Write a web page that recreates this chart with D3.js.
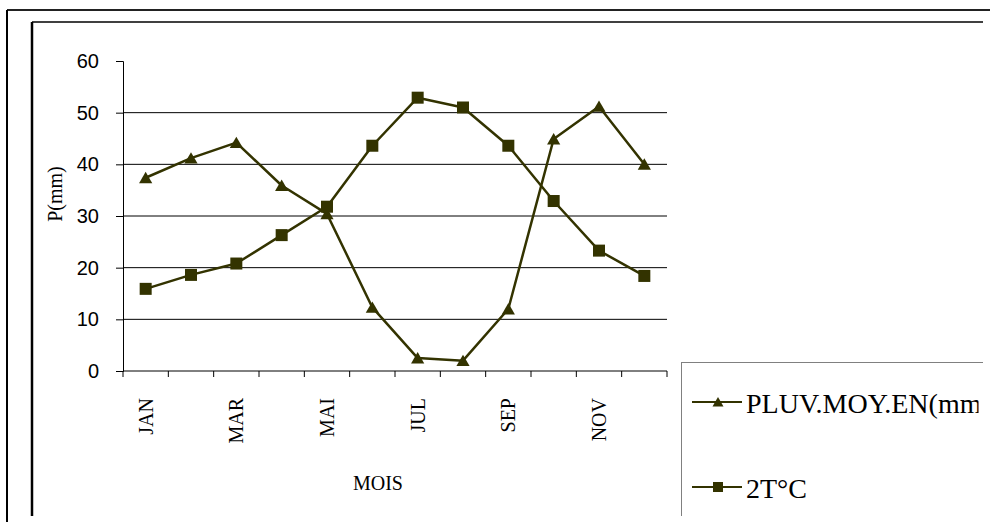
<!DOCTYPE html>
<html>
<head>
<meta charset="utf-8">
<script src="https://cdn.jsdelivr.net/npm/d3@7"></script>
<style>
  body { margin: 0; background: #fff; }
  svg { display: block; }
</style>
</head>
<body>
<div id="chart"></div>
<script>
'use strict';

// months (only every other one gets a label, like the original)
const months = ['JAN', 'FEV', 'MAR', 'AVR', 'MAI', 'JUIN', 'JUL', 'AOU', 'SEP', 'OCT', 'NOV', 'DEC'];
// precipitation (triangles)
const pluv = [37.4, 41.2, 44.2, 35.9, 30.4, 12.3, 2.5, 2.0, 12.0, 44.9, 51.2, 40.0];
// 2 x temperature (squares)
const temp2 = [15.9, 18.6, 20.8, 26.3, 31.8, 43.6, 52.9, 51.0, 43.6, 32.9, 23.3, 18.4];
const yTicks = [0, 10, 20, 30, 40, 50, 60];

const seriesNames = ['PLUV.MOY.EN(mm)', '2T\u00b0C'];

const width = 990;
const height = 522;
const col = '#333300';

const svg = d3.select('#chart').append('svg')
  .attr('width', width)
  .attr('height', height);

// outer + inner frames
svg.append('line').attr('x1', 7).attr('x2', width).attr('y1', 10).attr('y2', 10)
  .attr('stroke', '#222').attr('stroke-width', 2);
svg.append('line').attr('x1', 7).attr('x2', 7).attr('y1', 10).attr('y2', height)
  .attr('stroke', '#000').attr('stroke-width', 2);
svg.append('line').attr('x1', 32).attr('x2', 983).attr('y1', 22).attr('y2', 22)
  .attr('stroke', '#000').attr('stroke-width', 1.5);
svg.append('line').attr('x1', 32).attr('x2', 32).attr('y1', 22).attr('y2', 516)
  .attr('stroke', '#000').attr('stroke-width', 2.5);

svg.append('clipPath').attr('id', 'inner')
  .append('rect').attr('x', 33).attr('y', 23).attr('width', 950).attr('height', 493);
// the legend label runs past the chart edge in the original, its ")" never shows
svg.append('clipPath').attr('id', 'legtext')
  .append('rect').attr('x', 33).attr('y', 23).attr('width', 945.5).attr('height', 493);

const x = d3.scaleBand().domain(months).range([123, 667]);
const y = d3.scaleLinear().domain([0, 60]).range([371, 61]);

// gridlines
svg.append('g')
  .selectAll('line')
  .data(yTicks.filter(d => d > 0 && d < 60))
  .join('line')
  .attr('x1', 123).attr('x2', 667)
  .attr('y1', d => y(d)).attr('y2', d => y(d))
  .attr('stroke', '#000').attr('stroke-width', 1);

// y axis
const yAxis = svg.append('g')
  .attr('transform', 'translate(123,0)')
  .call(d3.axisLeft(y).tickValues(yTicks).tickSize(7).tickPadding(17));
yAxis.select('.domain').attr('stroke', '#000');
yAxis.selectAll('.tick line').attr('stroke', '#000');
yAxis.selectAll('text')
  .attr('font-family', '"Liberation Sans", Arial, sans-serif')
  .attr('font-size', 20)
  .attr('fill', '#000');

// x axis: ticks on the band edges
const xAxis = svg.append('g').attr('transform', `translate(0,${y(0)})`);
xAxis.append('line').attr('x1', 123).attr('x2', 667).attr('stroke', '#000');
xAxis.selectAll('line.tk')
  .data(d3.range(months.length + 1))
  .join('line')
  .attr('class', 'tk')
  .attr('x1', i => x.range()[0] + i * x.step())
  .attr('x2', i => x.range()[0] + i * x.step())
  .attr('y1', 0).attr('y2', 6)
  .attr('stroke', '#000');

xAxis.selectAll('text')
  .data(months.filter((m, i) => i % 2 === 0))
  .join('text')
  .attr('transform', d => `translate(${x(d) + x.bandwidth() / 2 + 7},27) rotate(-90)`)
  .attr('text-anchor', 'end')
  .attr('font-family', '"Liberation Serif", "Times New Roman", serif')
  .attr('font-size', 20)
  .text(d => d);

// axis titles
svg.append('text')
  .attr('transform', 'translate(62,194) rotate(-90)')
  .attr('text-anchor', 'middle')
  .attr('font-family', '"Liberation Serif", "Times New Roman", serif')
  .attr('font-size', 20)
  .text('P(mm)');

svg.append('text')
  .attr('x', 378).attr('y', 490)
  .attr('text-anchor', 'middle')
  .attr('font-family', '"Liberation Serif", "Times New Roman", serif')
  .attr('font-size', 20)
  .text('MOIS');

// markers
const tri = (cx, cy, r) => `M${cx},${cy - r}L${cx + r * 1.1},${cy + r * 0.9}L${cx - r * 1.1},${cy + r * 0.9}Z`;
const cxOf = i => x(months[i]) + x.bandwidth() / 2;

const line = d3.line()
  .x((d, i) => cxOf(i))
  .y(d => y(d));

svg.append('path').datum(pluv)
  .attr('d', line).attr('fill', 'none')
  .attr('stroke', col).attr('stroke-width', 2.5).attr('stroke-linejoin', 'round');
svg.append('path').datum(temp2)
  .attr('d', line).attr('fill', 'none')
  .attr('stroke', col).attr('stroke-width', 2.5).attr('stroke-linejoin', 'round');

svg.append('g').selectAll('path')
  .data(pluv)
  .join('path')
  .attr('d', (d, i) => tri(cxOf(i), y(d), 6))
  .attr('fill', col);

svg.append('g').selectAll('rect')
  .data(temp2)
  .join('rect')
  .attr('x', (d, i) => cxOf(i) - 6)
  .attr('y', d => y(d) - 6)
  .attr('width', 12).attr('height', 12)
  .attr('fill', col);

// legend, cut off by the chart area like the original
const leg = svg.append('g').attr('clip-path', 'url(#inner)');
leg.append('rect')
  .attr('x', 681.5).attr('y', 362.5)
  .attr('width', 400).attr('height', 200)
  .attr('fill', '#fff').attr('stroke', '#808080');

const rows = [402, 487];
seriesNames.forEach((name, i) => {
  const ly = rows[i];
  leg.append('line')
    .attr('x1', 692).attr('x2', 742).attr('y1', ly).attr('y2', ly)
    .attr('stroke', col).attr('stroke-width', 2);
  if (i === 0) {
    leg.append('path').attr('d', tri(718, ly, 5)).attr('fill', col);
  } else {
    leg.append('rect').attr('x', 713).attr('y', ly - 5)
      .attr('width', 10).attr('height', 10).attr('fill', col);
  }
  leg.append('text')
    .attr('clip-path', 'url(#legtext)')
    .attr('x', 746).attr('y', ly + 11)
    .attr('font-family', '"Liberation Serif", "Times New Roman", serif')
    .attr('font-size', 28)
    .text(name);
});
</script>
</body>
</html>
